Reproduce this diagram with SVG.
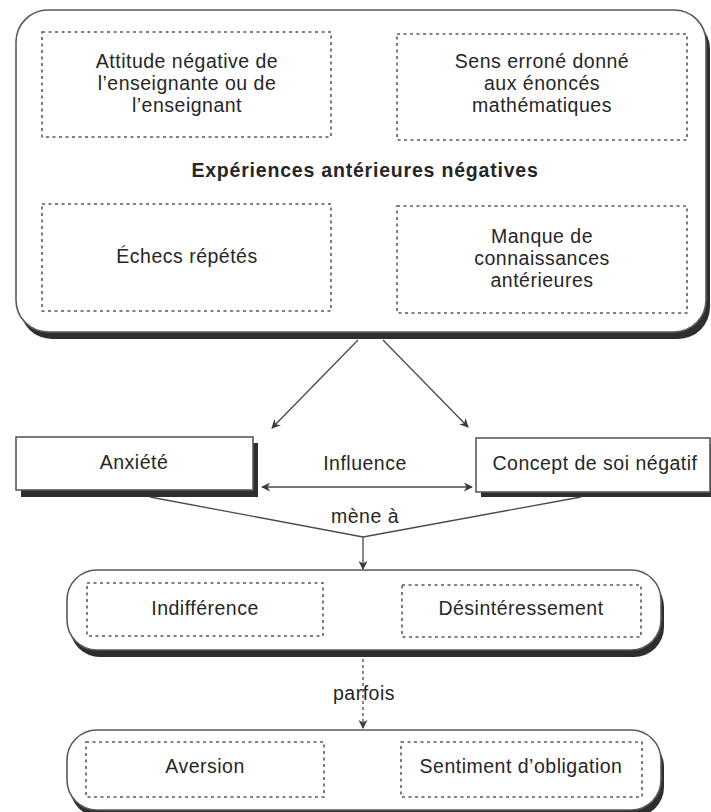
<svg xmlns="http://www.w3.org/2000/svg" width="711" height="812" viewBox="0 0 711 812">
<style>
  text { font-family: "Liberation Sans", Arial, sans-serif; font-size: 19.5px; letter-spacing: 0.5px; fill: #262626; text-anchor: middle; }
  .title { font-weight: bold; letter-spacing: 0.8px; }
  .frame { fill: #ffffff; stroke: #5a5a5a; stroke-width: 1.6; }
  .shadow { fill: #2e2e2e; }
  .dotted { fill: none; stroke: #5a5a5a; stroke-width: 1.6; stroke-dasharray: 3 3.5; }
  .conn { fill: none; stroke: #4a4a4a; stroke-width: 1.3; }
  .dconn { fill: none; stroke: #6a6a6a; stroke-width: 1.6; stroke-dasharray: 3 3; }
</style>
<defs>
  <marker id="arr" viewBox="0 0 10 10" refX="9" refY="5" markerWidth="9" markerHeight="9" markerUnits="userSpaceOnUse" orient="auto-start-reverse">
    <path d="M0,0 L10,5 L0,10 L3,5 Z" fill="#3a3a3a"/>
  </marker>
</defs>
<rect width="711" height="812" fill="#ffffff"/>

<g id="experiences">
  <rect class="shadow" x="20" y="17" width="690" height="322" rx="32"/>
  <rect class="frame" x="16" y="10" width="690" height="322" rx="32"/>
  <text class="title" x="365" y="177">Expériences antérieures négatives</text>
</g>
<g id="attitude">
  <rect class="dotted" x="42" y="32" width="289" height="105"/>
  <text x="187" y="68">Attitude négative de</text>
  <text x="187" y="90">l’enseignante ou de</text>
  <text x="187" y="112">l’enseignant</text>
</g>
<g id="sens">
  <rect class="dotted" x="397" y="34" width="290" height="106"/>
  <text x="542" y="68">Sens erroné donné</text>
  <text x="542" y="90">aux énoncés</text>
  <text x="542" y="112">mathématiques</text>
</g>
<g id="echecs">
  <rect class="dotted" x="42" y="204" width="289" height="107"/>
  <text x="187" y="263">Échecs répétés</text>
</g>
<g id="manque">
  <rect class="dotted" x="397" y="206" width="290" height="107"/>
  <text x="542" y="243">Manque de</text>
  <text x="542" y="265">connaissances</text>
  <text x="542" y="287">antérieures</text>
</g>

<g id="anxiete">
  <rect class="shadow" x="21" y="443" width="237" height="54"/>
  <rect class="frame" x="16" y="437" width="237" height="53"/>
  <text x="134" y="469">Anxiété</text>
</g>
<g id="concept">
  <rect class="shadow" x="481" y="444" width="235" height="53"/>
  <rect class="frame" x="476" y="438" width="234" height="54"/>
  <text x="595" y="470">Concept de soi négatif</text>
</g>

<g id="indifference-group">
  <rect class="shadow" x="70" y="577" width="594" height="80" rx="30"/>
  <rect class="frame" x="67" y="570" width="594" height="80" rx="30"/>
</g>
<g id="indifference">
  <rect class="dotted" x="87" y="583" width="236" height="53"/>
  <text x="205" y="615">Indifférence</text>
</g>
<g id="desinteressement">
  <rect class="dotted" x="402" y="585" width="239" height="52"/>
  <text x="521" y="615">Désintéressement</text>
</g>

<g id="aversion-group">
  <rect class="shadow" x="70" y="737" width="594" height="80" rx="30"/>
  <rect class="frame" x="67" y="730" width="594" height="80" rx="30"/>
</g>
<g id="aversion">
  <rect class="dotted" x="86" y="742" width="238" height="55"/>
  <text x="205" y="773">Aversion</text>
</g>
<g id="obligation">
  <rect class="dotted" x="401" y="742" width="241" height="55"/>
  <text x="521" y="773">Sentiment d’obligation</text>
</g>

<g id="connectors">
  <line class="conn" x1="358" y1="340" x2="272" y2="428" marker-end="url(#arr)"/>
  <line class="conn" x1="383" y1="340" x2="468" y2="427" marker-end="url(#arr)"/>
  <line class="conn" x1="262" y1="487" x2="472" y2="487" marker-start="url(#arr)" marker-end="url(#arr)"/>
  <polyline class="conn" points="150,497 363,537 581,497"/>
  <line class="conn" x1="363" y1="537" x2="363" y2="569" marker-end="url(#arr)"/>
  <line class="dconn" x1="363" y1="659" x2="363" y2="728" marker-end="url(#arr)"/>
  <text x="365" y="523">mène à</text>
  <text x="365" y="470">Influence</text>
  <text x="364" y="700">parfois</text>
</g>
</svg>
